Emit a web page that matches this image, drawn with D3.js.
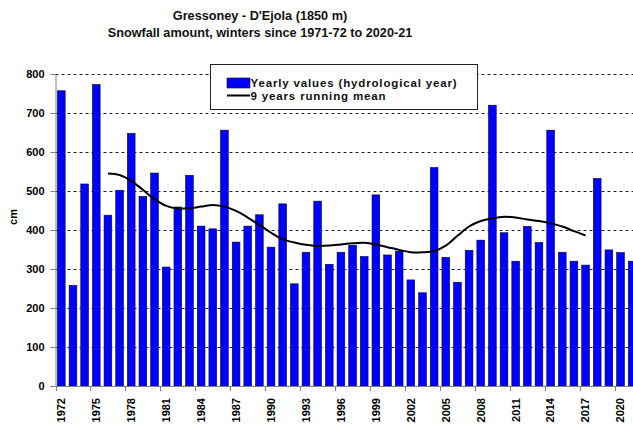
<!DOCTYPE html>
<html>
<head>
<meta charset="utf-8">
<script src="https://cdn.jsdelivr.net/npm/d3@7"></script>
<style>
body { margin: 0; background: #fff; }
svg { display: block; font-family: "Liberation Sans", Arial, sans-serif; }
</style>
</head>
<body>
<svg width="633" height="426"></svg>
<script>
// winters 1971-72 .. 2020-21, labelled by the ending year
const years = [1972,1973,1974,1975,1976,1977,1978,1979,1980,1981,
               1982,1983,1984,1985,1986,1987,1988,1989,1990,1991,
               1992,1993,1994,1995,1996,1997,1998,1999,2000,2001,
               2002,2003,2004,2005,2006,2007,2008,2009,2010,2011,
               2012,2013,2014,2015,2016,2017,2018,2019,2020,2021];

const snowfall = [757,258,518,773,438,502,648,486,546,305,
                  459,540,410,403,656,369,410,439,356,467,
                  262,343,474,312,343,361,332,490,336,346,
                  272,239,560,330,266,348,374,720,393,320,
                  409,368,656,343,320,310,532,349,342,320];

// 9 years running mean, 1976 .. 2017
const meanYears = [1976,1977,1978,1979,1980,1981,1982,1983,1984,1985,
                   1986,1987,1988,1989,1990,1991,1992,1993,1994,1995,
                   1996,1997,1998,1999,2000,2001,2002,2003,2004,2005,
                   2006,2007,2008,2009,2010,2011,2012,2013,2014,2015,
                   2016,2017];
const runningMean = [545,541,526,503,479,462,455,456,460,464,
                     460,449,432,413,393,376,368,362,359,360,
                     363,366,367,363,356,349,343,343,346,360,
                     385,409,423,430,434,432,427,423,417,409,
                     397,386];

const yTicks = [0,100,200,300,400,500,600,700,800];
const labelYears = [1972,1975,1978,1981,1984,1987,1990,1993,1996,1999,
                    2002,2005,2008,2011,2014,2017,2020];

const svg = d3.select('svg');
const width = +svg.attr('width');

const plotLeft = 55.5, plotBottom = 386, plotTop = 74;
const pad = 0.34;

const x = d3.scaleBand()
  .domain(years)
  .range([plotLeft, plotLeft + years.length * 11.65])
  .paddingInner(pad)
  .paddingOuter(pad / 2);

const y = d3.scaleLinear()
  .domain([0, 800])
  .range([plotBottom, plotTop]);

// title
const title = svg.append('g').attr('font-weight', 'bold').attr('font-size', '12.7px')
  .attr('text-anchor', 'middle').attr('fill', '#111');
title.append('text').attr('x', 260).attr('y', 19.5).text("Gressoney - D'Ejola (1850 m)");
title.append('text').attr('x', 260).attr('y', 36.5).text('Snowfall amount, winters since 1971-72 to 2020-21');

// dashed gridlines
svg.append('g').selectAll('line')
  .data(yTicks.filter(d => d > 0))
  .join('line')
  .attr('x1', plotLeft).attr('x2', width)
  .attr('y1', d => Math.round(y(d)) + 0.5).attr('y2', d => Math.round(y(d)) + 0.5)
  .attr('stroke', '#222')
  .attr('stroke-dasharray', '3,3');

// bars
svg.append('g').selectAll('rect')
  .data(years)
  .join('rect')
  .attr('x', d => x(d))
  .attr('width', x.bandwidth())
  .attr('y', (d, i) => y(snowfall[i]))
  .attr('height', (d, i) => plotBottom - y(snowfall[i]))
  .attr('fill', '#0000ff')
  .attr('stroke', '#000033')
  .attr('stroke-width', 0.6);

// running mean
const line = d3.line()
  .x((d, i) => x(meanYears[i]) + x.bandwidth() / 2)
  .y(d => y(d))
  .curve(d3.curveCatmullRom.alpha(0.5));

svg.append('path')
  .datum(runningMean)
  .attr('d', line)
  .attr('fill', 'none')
  .attr('stroke', '#000')
  .attr('stroke-width', 2);

// y axis
const yAxis = d3.axisLeft(y).tickValues(yTicks).tickSize(5).tickPadding(6).tickSizeOuter(0);
const gy = svg.append('g').attr('transform', `translate(${plotLeft},0)`).call(yAxis);
gy.select('.domain').attr('stroke', '#808080');
gy.selectAll('.tick line').attr('stroke', '#808080');
gy.selectAll('.tick text').attr('font-size', '11px').attr('font-weight', 'bold')
  .attr('font-family', '"Liberation Sans", Arial, sans-serif').attr('fill', '#000');

svg.append('text')
  .attr('transform', 'translate(17,217) rotate(-90)')
  .attr('text-anchor', 'middle')
  .attr('font-size', '11px').attr('font-weight', 'bold')
  .text('cm');

// x axis: line, ticks between categories every 3 years, rotated labels
const gx = svg.append('g').attr('transform', `translate(0,${plotBottom})`);
gx.append('line').attr('x1', plotLeft).attr('x2', width).attr('y1', 0.5).attr('y2', 0.5)
  .attr('stroke', '#808080');
const step = x.step();
gx.selectAll('.tk')
  .data(labelYears)
  .join('line')
  .attr('class', 'tk')
  .attr('x1', d => Math.round(x(d) - step * pad / 2) + 0.5)
  .attr('x2', d => Math.round(x(d) - step * pad / 2) + 0.5)
  .attr('y1', 0).attr('y2', 5)
  .attr('stroke', '#808080');

const xAxis = d3.axisBottom(x).tickValues(labelYears).tickSize(0).tickSizeOuter(0);
const gxl = svg.append('g').attr('transform', `translate(0,${plotBottom})`).call(xAxis);
gxl.select('.domain').remove();
gxl.selectAll('.tick text')
  .attr('font-size', '11px').attr('font-weight', 'bold')
  .attr('font-family', '"Liberation Sans", Arial, sans-serif').attr('fill', '#000')
  .attr('transform', 'rotate(-90)')
  .attr('text-anchor', 'end')
  .attr('x', -12).attr('y', 0).attr('dy', '0.35em');

// legend
const lg = svg.append('g').attr('transform', 'translate(210.5,64.5)');
lg.append('rect').attr('width', 267).attr('height', 45)
  .attr('fill', '#fff').attr('stroke', '#222');
lg.append('rect').attr('x', 16.5).attr('y', 13.5).attr('width', 23).attr('height', 10)
  .attr('fill', '#0000ff').attr('stroke', '#000033').attr('stroke-width', 0.6);
lg.append('line').attr('x1', 16.5).attr('x2', 39.5).attr('y1', 31).attr('y2', 31)
  .attr('stroke', '#000').attr('stroke-width', 2);
const lt = lg.append('g').attr('font-size', '11.5px').attr('font-weight', 'bold')
  .attr('letter-spacing', '0.85px').attr('fill', '#111');
lt.append('text').attr('x', 40).attr('y', 22.5).text('Yearly values (hydrological year)');
lt.append('text').attr('x', 40).attr('y', 35.5).text('9 years running mean');
</script>
</body>
</html>
